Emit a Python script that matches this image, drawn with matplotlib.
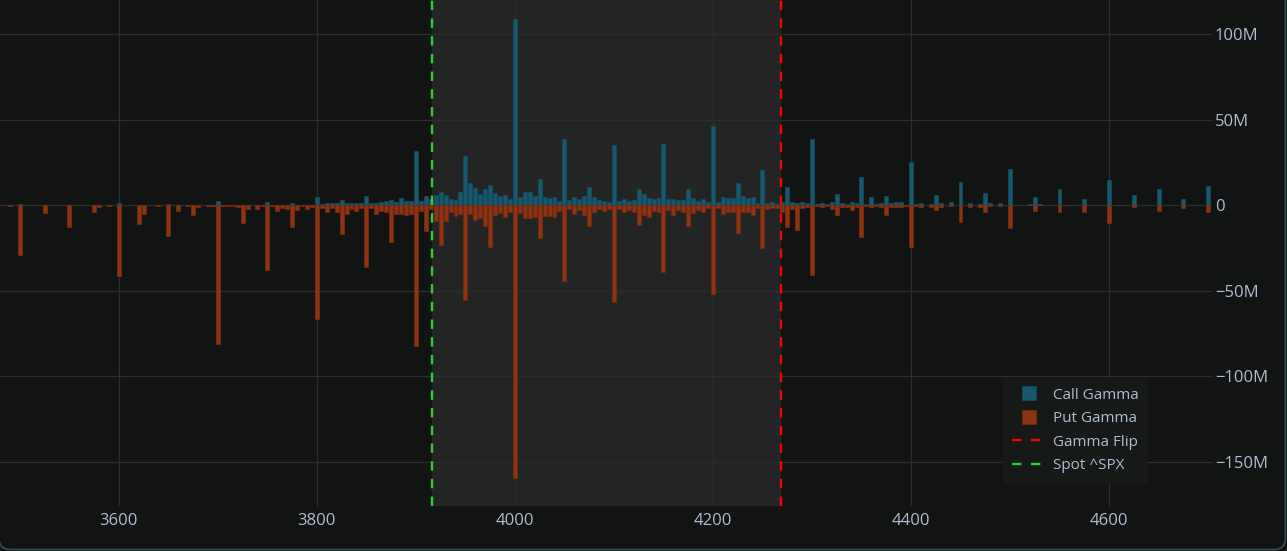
import numpy as np
import matplotlib
matplotlib.use("Agg")
import matplotlib.pyplot as plt
from matplotlib.patches import FancyBboxPatch
from matplotlib.lines import Line2D
from matplotlib.ticker import FixedLocator, FuncFormatter

plt.rcParams['font.family'] = ['Open Sans', 'DejaVu Sans']

strikes = [3490, 3500, 3525, 3550, 3575, 3580, 3590, 3600, 3620, 3625, 3640, 3650, 3660, 3670, 3675, 3680,
           3690, 3695, 3700, 3705, 3710, 3715, 3720, 3725, 3730, 3740, 3745, 3750, 3755, 3760, 3765, 3770,
           3775, 3780, 3785, 3790, 3795, 3800, 3805, 3810, 3815, 3820, 3825, 3830, 3835, 3840, 3845, 3850,
           3855, 3860, 3865, 3870, 3875, 3880, 3885, 3890, 3895, 3900, 3905, 3910, 3915, 3920, 3925, 3930,
           3935, 3940, 3945, 3950, 3955, 3960, 3965, 3970, 3975, 3980, 3985, 3990, 3995, 4000, 4005, 4010,
           4015, 4020, 4025, 4030, 4035, 4040, 4045, 4050, 4055, 4060, 4065, 4070, 4075, 4080, 4085, 4090,
           4095, 4100, 4105, 4110, 4115, 4120, 4125, 4130, 4135, 4140, 4145, 4150, 4155, 4160, 4165, 4170,
           4175, 4180, 4185, 4190, 4195, 4200, 4205, 4210, 4215, 4220, 4225, 4230, 4235, 4240, 4245, 4250,
           4255, 4260, 4265, 4270, 4275, 4280, 4285, 4290, 4295, 4300, 4305, 4310, 4315, 4320, 4325, 4330,
           4335, 4340, 4345, 4350, 4355, 4360, 4365, 4370, 4375, 4380, 4385, 4390, 4395, 4400, 4405, 4410,
           4420, 4425, 4430, 4440, 4450, 4460, 4470, 4475, 4480, 4490, 4500, 4520, 4525, 4530, 4550, 4560,
           4575, 4600, 4610, 4625, 4650, 4675, 4700]

# millions
call_gamma = [0, 0.8, 0, 0, 0, 0, 0, 1, 0, 0, 0, 0.8, 0, 0, 0, 0,
              0, 0, 2.3, 0, 0, 0, 0, 0, 0, 0, 0, 1.6, 0, 0, 0, 0,
              1, 0, 0, 0, 0, 4.9, 0.6, 1, 1, 1, 2.9, 1.5, 1.5, 1.5, 1, 5.6,
              1, 1.5, 2, 2.2, 2.9, 2, 3.9, 2.4, 2.5, 31.8, 2.3, 5.5, 3.3, 5.8, 7.4, 6,
              3.5, 3.1, 7.4, 28.7, 13, 10.3, 6.4, 9.7, 11.9, 7, 5.1, 5.7, 3.5, 108.8, 4.7, 7.4,
              7.8, 5.5, 15, 4.7, 4.1, 4.9, 2.3, 38.6, 2.9, 4.7, 3.3, 5.3, 10.5, 4.7, 3.1, 2.7,
              1.9, 34.9, 2.3, 3.7, 2.7, 2.9, 9.2, 6.4, 4.1, 3.5, 4.1, 35.7, 3.3, 3.3, 2.9, 2.9,
              9.2, 3.9, 2.3, 3.5, 1.8, 46.2, 1.6, 4.9, 3.9, 4.1, 12.7, 5.3, 4.1, 4.7, 1.2, 20.5,
              1.4, 2.1, 0.6, 1.6, 10.5, 1.8, 1.2, 2.1, 1.5, 38.8, 0.8, 1.5, 0.5, 1.9, 6.6, 1.2,
              0.4, 1.9, 1.5, 16.6, 0.4, 4.9, 0.4, 1.5, 5.3, 1.5, 2.1, 1.7, 0.3, 25.3, 0.4, 1.3,
              0.8, 5.8, 1.3, 1.7, 13.6, 1.2, 0.8, 7, 1.3, 1.5, 21, 0.4, 4.9, 0.4, 9.7, 0.3,
              3.5, 14.6, 0.3, 5.7, 9.6, 3.5, 11.1]

put_gamma = [-0.5, -29.3, -4.5, -12.7, -4, -1, -0.5, -41.3, -11, -4.9, -0.5, -18, -3.3, -0.5, -6, -1,
             -0.5, -0.6, -81, -0.5, -0.5, -0.5, -1, -10.3, -2.5, -2, -0.6, -38, -0.6, -3.3, -1.5, -2,
             -13, -3, -0.7, -2.5, -1, -66.5, -1.5, -4, -1.5, -4, -16.7, -5, -2.5, -3.5, -1.5, -36.3,
             -1.5, -5, -3.5, -4, -21.6, -5, -5.2, -5.5, -4.9, -82.5, -3.3, -15, -2, -9, -23.6, -9,
             -3.9, -6.2, -5, -55.5, -4.9, -8.8, -7.4, -12, -24.5, -5.7, -4.7, -6.8, -3.9, -159.6, -4.5, -7.4,
             -7.4, -7.2, -19, -6.2, -6.2, -7.2, -3.3, -44.6, -2.3, -5.3, -3.1, -5.7, -12, -3.9, -2.3, -3.5,
             -2, -56.7, -2.1, -4.3, -2.9, -4.3, -11.7, -5.5, -6.8, -3.5, -4.3, -39, -2.9, -5.5, -2.9, -4.3,
             -12, -4.5, -2.9, -3.9, -1.6, -52.2, -1.6, -5.3, -4.1, -4.1, -16.4, -4.3, -4.1, -5.8, -1.4, -25.3,
             -2, -1.6, -1.4, -4, -12.7, -2, -14.4, -1.8, -1.2, -41.1, -0.5, -1.2, -0.3, -2, -5.7, -1.2,
             -0.8, -3.1, -1.2, -18.7, -0.3, -1.2, -0.3, -0.8, -5.7, -1.2, -1.2, -1.2, -0.3, -24.2, -0.3, -0.8,
             -1.2, -3.1, -0.8, -0.4, -10.1, -0.8, -1.2, -3.9, -0.4, -0.3, -13.6, -0.2, -3.3, -0.2, -4.3, -0.2,
             -4.3, -10.5, -0.2, -1.2, -3.3, -1.4, -4.3]

spot = 3916
gamma_flip = 4269
y_ticks = [-150, -100, -50, 0, 50, 100]
x_ticks = [3600, 3800, 4000, 4200, 4400, 4600]

bg = '#121313'
txt = '#aebdd0'
call_col = '#17586f'
put_col = '#8b3312'

W, H = 1287, 551
fig = plt.figure(figsize=(W / 100, H / 100), dpi=100, facecolor=bg)
ax = fig.add_axes([0, 45 / H, 1212 / W, 506 / H])
ax.set_facecolor(bg)

ax.axvspan(spot, gamma_flip, color='white', alpha=0.075, lw=0, zorder=0)

ax.bar(strikes, call_gamma, width=4, color=call_col, edgecolor='#134a5e', lw=0.6, zorder=2)
ax.bar(strikes, put_gamma, width=4, color=put_col, edgecolor='#742a0f', lw=0.6, zorder=2)

ax.axvline(gamma_flip, color='#ff0000', lw=1.7, ls=(0, (4, 3.5)), zorder=3)
ax.axvline(spot, color='#33cc33', lw=1.7, ls=(0, (4, 3.5)), zorder=3)

ax.set_xlim(3480, 4704)
ax.set_ylim(-176, 120)
ax.xaxis.set_major_locator(FixedLocator(x_ticks))
ax.yaxis.set_major_locator(FixedLocator(y_ticks))
ax.yaxis.set_major_formatter(FuncFormatter(lambda v, p: '0' if v == 0 else f"{int(v)}M".replace('-', '\u2212')))
ax.yaxis.tick_right()
ax.grid(True, color='#2c2e2e', lw=0.9, zorder=1)
ax.set_axisbelow(True)
ax.tick_params(axis='both', length=0, colors=txt, labelsize=12)
ax.tick_params(axis='x', pad=5)
ax.tick_params(axis='y', pad=2)
for s in ax.spines.values():
    s.set_visible(False)

handles = [Line2D([], [], ls='none', marker='s', markersize=9.5, markerfacecolor=call_col,
                  markeredgecolor='#134a5e', markeredgewidth=0.6),
           Line2D([], [], ls='none', marker='s', markersize=9.5, markerfacecolor=put_col,
                  markeredgecolor='#742a0f', markeredgewidth=0.6),
           Line2D([], [], color='#ff0000', lw=1.7, ls=(0, (4, 4))),
           Line2D([], [], color='#33cc33', lw=1.7, ls=(0, (4, 4)))]
labels = ['Call Gamma', 'Put Gamma', 'Gamma Flip', 'Spot ^SPX']
leg = fig.legend(handles, labels, loc='upper left', bbox_to_anchor=(1003 / W, 1 - 378 / H),
                 fontsize=11, frameon=True, facecolor='#171919', edgecolor='none', framealpha=1,
                 handlelength=2.2, handleheight=0.9, handletextpad=0.45, labelspacing=0.52,
                 borderpad=0.6, borderaxespad=0, fancybox=False)
for t in leg.get_texts():
    t.set_color(txt)

# rounded frame in pixel units, only right and bottom edges fall inside the canvas
frame_ax = fig.add_axes([0, 0, 1, 1], zorder=5)
frame_ax.set_xlim(0, W)
frame_ax.set_ylim(0, H)
frame_ax.axis('off')
frame_ax.patch.set_alpha(0)
frame_ax.add_patch(FancyBboxPatch((-1, 1.5), W - 0.5, H + 40, boxstyle='round,pad=0,rounding_size=11',
                                  facecolor='none', edgecolor='#2d4d4c', lw=1.3))

fig.savefig('out.png', dpi=100, facecolor=bg)
